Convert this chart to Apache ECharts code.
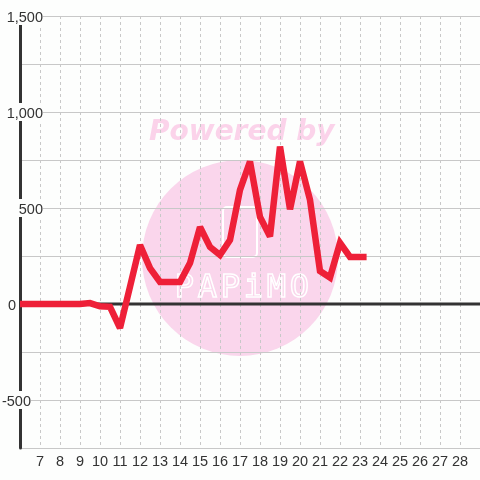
<!DOCTYPE html>
<html>
<head>
<meta charset="utf-8">
<script src="https://cdn.jsdelivr.net/npm/echarts@6/dist/echarts.min.js"></script>
<style>
html,body{margin:0;padding:0;background:#fdfefd;}
#c{width:480px;height:480px;}
</style>
</head>
<body>
<div id="c"></div>
<script>
// hour of day (x) and value (y)
var hours = [6, 6.5, 7, 7.5, 8, 8.5, 9, 9.5, 10, 10.5, 11, 11.5, 12, 12.5, 13, 13.5, 14, 14.5, 15, 15.5, 16, 16.5, 17, 17.5, 18, 18.5, 19, 19.5, 20, 20.5, 21, 21.5, 22, 22.5, 23, 23.33];
var values = [0, 0, 0, 0, 0, 0, 0, 5, -12, -15, -125, 90, 307, 187, 115, 115, 115, 213, 401, 297, 255, 333, 594, 742, 453, 352, 820, 493, 742, 542, 172, 138, 318, 245, 245, 245];
var yTickLabels = [1500, 1000, 500, 0, -500];
var xTickLabels = [7, 8, 9, 10, 11, 12, 13, 14, 15, 16, 17, 18, 19, 20, 21, 22, 23, 24, 25, 26, 27, 28];
var zeroLineX = [6, 29];

var seriesData = hours.map(function (h, i) { return [h, values[i]]; });
var labelGap = { '0': 27, '-500': 12 };
var FONT = '"Liberation Sans", Arial, sans-serif';
var FS = 14.5;

var watermarkLetters = ['P', 'A', 'P', 'i', 'M', 'O'];
var graphics = [
  { type: 'circle', z: -10, shape: { cx: 240, cy: 258, r: 98 }, style: { fill: '#fad6ec' }, silent: true },
  { type: 'text', z: -10, left: 149, top: 119, style: { text: 'Powered by', fill: '#fbd3ea', font: 'italic bold 28px "DejaVu Sans", sans-serif' }, silent: true },
  { type: 'rect', z: -10, shape: { x: 223, y: 207, width: 34, height: 50, r: 4 }, style: { fill: 'rgba(0,0,0,0)', stroke: '#ffffff', lineWidth: 2 }, silent: true }
];
watermarkLetters.forEach(function (ch, i) {
  graphics.push({ type: 'text', z: -10, left: 174 + i * 23, top: 272, silent: true,
    style: { text: ch, fill: 'rgba(255,255,255,0)', stroke: '#ffffff', lineWidth: 1.5, font: '32px "DejaVu Sans Mono", monospace' } });
});

var chart = echarts.init(document.getElementById('c'));
chart.setOption({
  backgroundColor: '#fdfefd',
  animation: false,
  grid: { left: 20, right: 0, top: 16, bottom: 32, containLabel: false, outerBoundsMode: 'none' },
  graphic: graphics,
  xAxis: {
    type: 'value', min: 6, max: 29, interval: 1,
    axisLine: { show: false }, axisTick: { show: false },
    splitLine: { show: true, lineStyle: { color: '#c8c8c8', type: [3, 3], width: 1 } },
    axisLabel: {
      color: '#333', fontSize: FS, fontFamily: FONT, margin: 6,
      formatter: function (v) { return xTickLabels.indexOf(v) >= 0 ? String(v) : ''; }
    }
  },
  yAxis: {
    type: 'value', min: -750, max: 1500, interval: 250,
    axisLine: { show: true, onZero: false, lineStyle: { color: '#333', width: 3 } },
    axisTick: { show: false },
    splitLine: { show: true, lineStyle: { color: '#c8c8c8', width: 1 } },
    axisLabel: {
      margin: -23, align: 'right',
      formatter: function (v) {
        if (yTickLabels.indexOf(v) < 0) return '';
        var s = v.toLocaleString('en-US');
        var g = labelGap[String(v)];
        return g ? '{t|' + s + '}{g' + g + '|\u00a0}' : '{t|' + s + '}';
      },
      rich: {
        t: { color: '#333', fontSize: FS, fontFamily: FONT, backgroundColor: '#fdfefd', padding: [3, 0, 0, 0], lineHeight: 17 },
        g27: { width: 27, fontSize: FS },
        g12: { width: 12, fontSize: FS }
      }
    }
  },
  series: [{
    type: 'line', data: zeroLineX.map(function (x) { return [x, 0]; }), showSymbol: false, symbol: 'none',
    lineStyle: { color: '#333', width: 3 }, z: 3, silent: true
  }, {
    type: 'line', data: seriesData, showSymbol: false, symbol: 'none',
    lineStyle: { color: '#ee2038', width: 6.5, cap: 'butt', join: 'miter', miterLimit: 2.5 },
    z: 5
  }]
});
</script>
</body>
</html>
